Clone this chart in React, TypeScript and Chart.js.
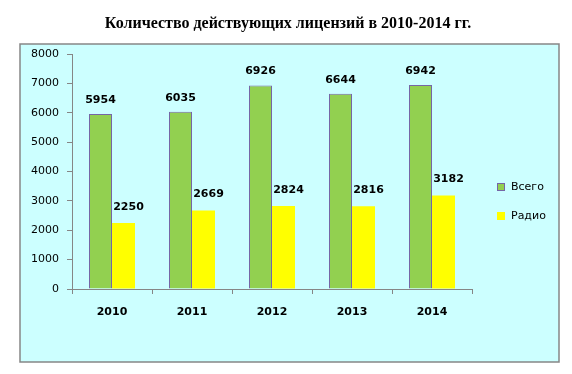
import React, { useEffect, useRef } from "react";
import { Chart, registerables } from "chart.js";

Chart.register(...registerables);

const TITLE = "Количество действующих лицензий в 2010-2014 гг.";
const years = ["2010", "2011", "2012", "2013", "2014"];
const totalLicenses = [5954, 6035, 6926, 6644, 6942];
const radioLicenses = [2250, 2669, 2824, 2816, 3182];
const seriesNames = ["Всего", "Радио"];
const yMax = 8000;
const yStep = 1000;

const FONT = "'DejaVu Sans', Verdana, sans-serif";
const GREEN = "#92d050";
const YELLOW = "#ffff00";
const BAR_BORDER = "#7566a6";
const AXIS = "#868686";

const decorPlugin = {
  id: "decor",
  beforeDraw(chart: any) {
    const { ctx, width, height } = chart;
    ctx.save();
    ctx.fillStyle = "#ffffff";
    ctx.fillRect(0, 0, width, height);
    ctx.fillStyle = "#ccffff";
    ctx.fillRect(20, 44, 539, 318);
    ctx.strokeStyle = "#868686";
    ctx.lineWidth = 1.5;
    ctx.strokeRect(20, 44, 539, 318);
    ctx.fillStyle = "#000";
    ctx.font = "bold 16px 'Liberation Serif', 'Times New Roman', serif";
    ctx.textAlign = "center";
    ctx.textBaseline = "middle";
    ctx.fillText(TITLE, 288, 24);
    ctx.restore();
  },
  afterDatasetsDraw(chart: any) {
    const { ctx } = chart;
    ctx.save();
    ctx.fillStyle = "#000";
    ctx.font = `bold 11px ${FONT}`;
    ctx.textAlign = "center";
    ctx.textBaseline = "middle";
    chart.data.datasets.forEach((ds: any, di: number) => {
      const meta = chart.getDatasetMeta(di);
      meta.data.forEach((el: any, i: number) => {
        const dx = di === 0 ? 0 : 5;
        const dy = di === 0 ? 14 : 16;
        ctx.fillText(String(ds.data[i]), el.x + dx, el.y - dy);
      });
    });
    // legend
    chart.data.datasets.forEach((ds: any, di: number) => {
      const y = 187 + di * 29;
      ctx.fillStyle = ds.backgroundColor;
      ctx.fillRect(497, y - 4, 8, 8);
      if (ds.borderWidth) {
        ctx.strokeStyle = ds.borderColor;
        ctx.lineWidth = 1;
        ctx.strokeRect(497.5, y - 3.5, 7, 7);
      }
      ctx.fillStyle = "#000";
      ctx.font = `11px ${FONT}`;
      ctx.textAlign = "left";
      ctx.fillText(ds.label, 511, y);
    });
    ctx.restore();
  },
};

export default function App() {
  const ref = useRef<HTMLCanvasElement>(null);
  useEffect(() => {
    const canvas = ref.current;
    if (!canvas) return;
    const chart = new Chart(canvas, {
      type: "bar",
      data: {
        labels: years,
        datasets: [
          {
            label: seriesNames[0],
            data: totalLicenses,
            backgroundColor: GREEN,
            borderColor: BAR_BORDER,
            borderWidth: 1,
            categoryPercentage: 0.575,
            barPercentage: 1,
          },
          {
            label: seriesNames[1],
            data: radioLicenses,
            backgroundColor: YELLOW,
            borderWidth: 0,
            categoryPercentage: 0.575,
            barPercentage: 1,
          },
        ],
      },
      options: {
        responsive: false,
        animation: false,
        devicePixelRatio: 1,
        layout: { padding: { top: 54, left: 20, right: 100, bottom: 12 } },
        plugins: {
          legend: { display: false },
          title: { display: false },
          tooltip: { enabled: false },
        },
        scales: {
          x: {
            grid: {
              drawOnChartArea: false,
              drawTicks: true,
              tickLength: 5,
              color: AXIS,
              offset: true,
            },
            border: { color: AXIS, width: 1 },
            ticks: {
              color: "#000",
              font: { family: FONT, size: 11, weight: "bold" },
              padding: 12,
            },
            afterFit: (s: any) => {
              s.height = 73;
            },
          },
          y: {
            min: 0,
            max: yMax,
            grid: {
              drawOnChartArea: false,
              drawTicks: true,
              tickLength: 5,
              color: AXIS,
            },
            border: { color: AXIS, width: 1 },
            ticks: {
              stepSize: yStep,
              color: "#000",
              font: { family: FONT, size: 11 },
              padding: 8,
              callback: (v: any) => String(v),
            },
            afterFit: (s: any) => {
              s.width = 52;
            },
          },
        },
      } as any,
      plugins: [decorPlugin],
    });
    return () => chart.destroy();
  }, []);
  return (
    <div style={{ position: "absolute", left: 0, top: 0, width: 572, height: 374 }}>
      <canvas ref={ref} width={572} height={374} />
    </div>
  );
}
